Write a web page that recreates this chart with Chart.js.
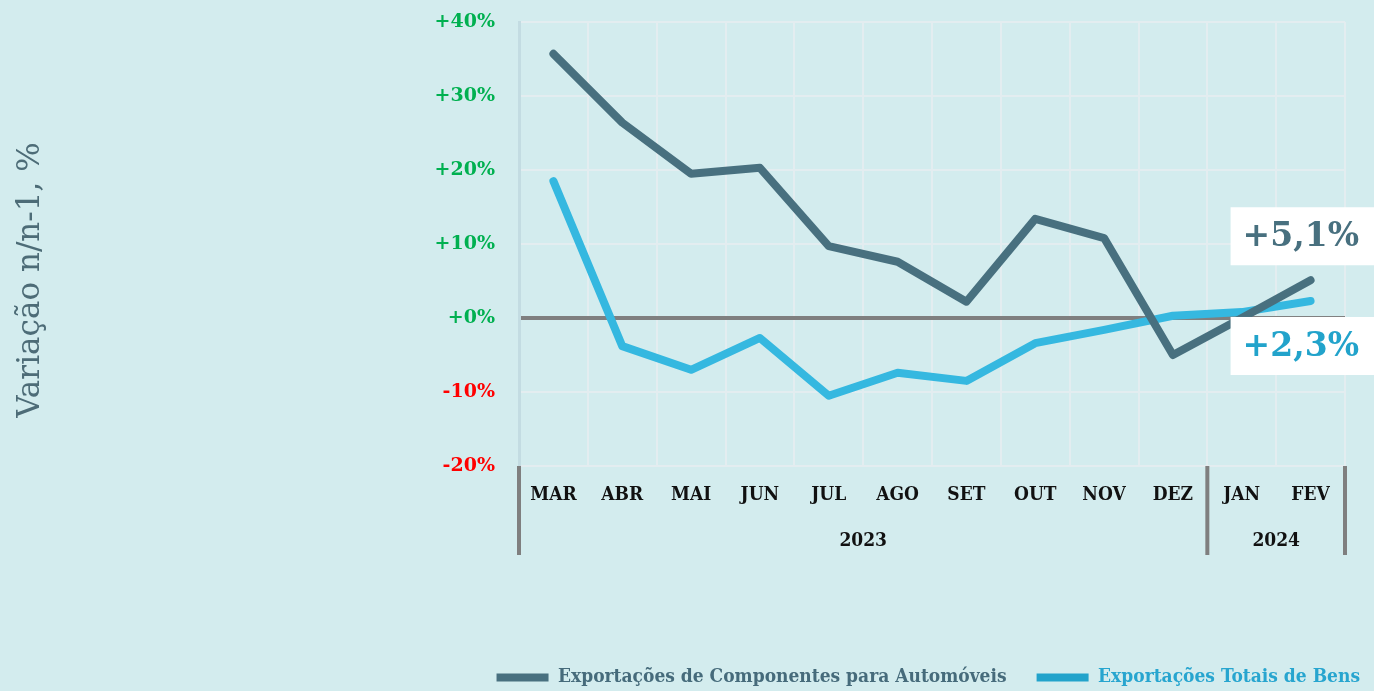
<!DOCTYPE html>
<html>
<head>
<meta charset="utf-8">
<script src="https://cdn.jsdelivr.net/npm/chart.js@4"></script>
<style>
  html, body { margin: 0; padding: 0; background: #d3ecee; }
  #wrap { width: 1374px; height: 691px; }
</style>
</head>
<body>
<div id="wrap"><canvas id="myChart"></canvas></div>
<script>
const months = ['MAR', 'ABR', 'MAI', 'JUN', 'JUL', 'AGO', 'SET', 'OUT', 'NOV', 'DEZ', 'JAN', 'FEV'];
const years = [
  { label: '2023', from: 0, to: 9 },
  { label: '2024', from: 10, to: 11 }
];
const componentes = [35.7, 26.4, 19.5, 20.3, 9.7, 7.6, 2.2, 13.4, 10.8, -5.0, 0.0, 5.1];
const totais = [18.5, -3.8, -7.0, -2.7, -10.5, -7.4, -8.5, -3.4, -1.6, 0.3, 0.8, 2.3];
const lastLabels = ['+5,1%', '+2,3%'];
const yTitle = 'Variação n/n-1, %';

const serif = '"DejaVu Serif", "Liberation Serif", serif';
const cond = '"DejaVu Serif Condensed", "Liberation Serif", serif';
const darkCol = '#48707f';
const lightCol = '#35b8e0';

const bgPlugin = {
  id: 'bg',
  beforeDraw(chart) {
    const ctx = chart.ctx;
    ctx.save();
    ctx.fillStyle = '#d3ecee';
    ctx.fillRect(0, 0, chart.width, chart.height);
    ctx.restore();
  }
};

const extras = {
  id: 'extras',
  afterDraw(chart) {
    const ctx = chart.ctx;
    const area = chart.chartArea;
    const x = chart.scales.x;
    const half = (x.getPixelForValue(1) - x.getPixelForValue(0)) / 2;
    ctx.save();
    // year groups
    ctx.strokeStyle = '#7f7f7f';
    ctx.lineWidth = 4;
    ctx.fillStyle = '#111';
    ctx.font = 'bold 19px ' + cond;
    ctx.textAlign = 'center';
    ctx.textBaseline = 'middle';
    const edges = [area.left];
    years.forEach(y => {
      const l = x.getPixelForValue(y.from) - half;
      const r = x.getPixelForValue(y.to) + half;
      edges.push(r);
      ctx.fillText(y.label, (l + r) / 2, area.bottom + 75);
    });
    edges.forEach(e => {
      ctx.beginPath();
      ctx.moveTo(e, area.bottom);
      ctx.lineTo(e, area.bottom + 89);
      ctx.stroke();
    });
    // y title
    ctx.translate(31, 280);
    ctx.rotate(-Math.PI / 2);
    ctx.font = '31px ' + serif;
    ctx.fillStyle = '#4d6c77';
    ctx.fillText(yTitle, 0, 0);
    ctx.restore();
  },
  afterDatasetsDraw(chart) {
    const ctx = chart.ctx;
    ctx.save();
    ctx.font = 'bold 33px ' + serif;
    ctx.textAlign = 'left';
    ctx.textBaseline = 'middle';
    chart.data.datasets.forEach((ds, i) => {
      const meta = chart.getDatasetMeta(i);
      const pt = meta.data[meta.data.length - 1];
      const cy = i === 0 ? pt.y - 44 : pt.y + 45;
      const left = pt.x - 80;
      ctx.fillStyle = '#ffffff';
      ctx.fillRect(left, cy - 29, chart.width - left, 58);
      ctx.fillStyle = i === 0 ? darkCol : '#22a3cb';
      ctx.fillText(lastLabels[i], left + 12, cy + 1);
    });
    ctx.restore();
  }
};

const ctxEl = document.getElementById('myChart').getContext('2d');
const chart = new Chart(ctxEl, {
  type: 'line',
  data: {
    labels: months,
    datasets: [
      {
        label: 'Exportações de Componentes para Automóveis',
        data: componentes,
        borderColor: darkCol,
        backgroundColor: darkCol,
        borderWidth: 8,
        borderCapStyle: 'round',
        borderJoinStyle: 'round',
        pointRadius: 0,
        tension: 0
      },
      {
        label: 'Exportações Totais de Bens',
        data: totais,
        borderColor: lightCol,
        backgroundColor: '#22a3cb',
        borderWidth: 8,
        borderCapStyle: 'round',
        borderJoinStyle: 'round',
        pointRadius: 0,
        tension: 0
      }
    ]
  },
  options: {
    responsive: true,
    maintainAspectRatio: false,
    animation: false,
    layout: { padding: { top: 22, right: -16, bottom: -6, left: 0 } },
    plugins: {
      tooltip: { enabled: false },
      legend: {
        position: 'bottom',
        align: 'end',
        labels: {
          boxWidth: 52,
          boxHeight: 8,
          padding: 30,
          font: { family: cond, size: 19, weight: 'bold' },
          generateLabels(chart) {
            const items = Chart.defaults.plugins.legend.labels.generateLabels(chart);
            items.forEach((it, i) => {
              it.fontColor = i === 0 ? '#466b7b' : '#27a5cf';
              it.lineWidth = 0;
            });
            return items;
          }
        }
      }
    },
    scales: {
      x: {
        offset: true,
        afterFit(scale) { scale.height = 172; },
        grid: { offset: true, color: '#e3edf0', lineWidth: 2, drawTicks: false },
        border: { display: false },
        ticks: {
          padding: 18,
          color: '#111',
          font: { family: cond, size: 19, weight: 'bold' },
          autoSkip: false,
          maxRotation: 0
        }
      },
      y: {
        min: -20,
        max: 40,
        afterFit(scale) { scale.width = 519; },
        grid: {
          drawTicks: true,
          tickLength: 24,
          tickColor: 'rgba(0,0,0,0)',
          color: ctx => ctx.tick.value === 0 ? '#7f7f7f' : '#e3edf0',
          lineWidth: ctx => ctx.tick.value === 0 ? 4 : 2
        },
        border: { display: true, color: '#c3dce2', width: 3 },
        ticks: {
          stepSize: 10,
          padding: 0,
          font: { family: serif, size: 19, weight: 'bold' },
          color: ctx => ctx.tick.value < 0 ? '#ff0000' : '#00b050',
          callback: v => (v >= 0 ? '+' : '') + v + '%'
        }
      },
      yRight: {
        position: 'right',
        min: -20,
        max: 40,
        afterFit(scale) { scale.width = 45; },
        grid: { display: false },
        border: { display: false },
        ticks: { display: false }
      }
    }
  },
  plugins: [bgPlugin, extras]
});
</script>
</body>
</html>
